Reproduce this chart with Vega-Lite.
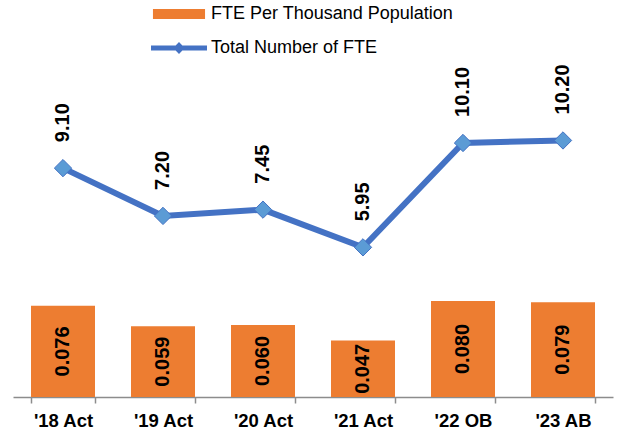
{
  "$schema": "https://vega.github.io/schema/vega-lite/v6.json",
  "width": 600,
  "height": 335,
  "autosize": {"type": "none"},
  "padding": {"left": 13, "top": 62, "right": 10, "bottom": 37},
  "config": {
    "view": {"stroke": null},
    "font": "Liberation Sans",
    "legend": {"padding": 0, "labelFont": "Liberation Sans", "labelFontSize": 18, "labelColor": "black", "labelOffset": 4, "labelLimit": 400}
  },
  "data": {
    "values": [
      {"period": "'18 Act", "per_k": 0.076, "total": 9.10},
      {"period": "'19 Act", "per_k": 0.059, "total": 7.20},
      {"period": "'20 Act", "per_k": 0.060, "total": 7.45},
      {"period": "'21 Act", "per_k": 0.047, "total": 5.95},
      {"period": "'22 OB", "per_k": 0.080, "total": 10.10},
      {"period": "'23 AB", "per_k": 0.079, "total": 10.20}
    ]
  },
  "encoding": {
    "x": {
      "field": "period",
      "type": "nominal",
      "sort": null,
      "scale": {"paddingInner": 0.36, "paddingOuter": 0.18},
      "axis": {
        "title": null,
        "labelAngle": 0,
        "labelFont": "Liberation Sans",
        "labelFontSize": 18.5,
        "labelFontWeight": "bold",
        "labelColor": "black",
        "labelPadding": 8,
        "domainColor": "#8c8c8c",
        "domainWidth": 1.5,
        "tickColor": "#8c8c8c",
        "tickWidth": 1.5,
        "tickSize": 6,
        "tickBand": "extent",
        "grid": false
      }
    }
  },
  "layer": [
    {
      "mark": {"type": "bar"},
      "encoding": {
        "y": {"field": "per_k", "type": "quantitative", "scale": {"domain": [0, 0.2792]}, "axis": null},
        "fill": {
          "datum": "FTE Per Thousand Population",
          "scale": {"range": ["#ED7D31"]},
          "legend": {
            "title": null,
            "orient": "none",
            "legendX": 138,
            "legendY": -76,
            "symbolType": "M-0.93,-0.18L0.93,-0.18L0.93,0.18L-0.93,0.18Z",
            "symbolSize": 3136,
            "symbolStrokeWidth": 0
          }
        }
      }
    },
    {
      "mark": {"type": "text", "angle": 270, "align": "center", "baseline": "middle", "fontSize": 20, "fontWeight": "bold", "font": "Liberation Sans", "color": "black"},
      "encoding": {
        "y": {"field": "per_k", "type": "quantitative", "scale": {"domain": [0, 0.5584]}, "axis": null},
        "text": {"field": "per_k", "type": "quantitative", "format": ".3f"}
      }
    },
    {
      "encoding": {
        "y": {"field": "total", "type": "quantitative", "scale": {"domain": [0, 13.32]}, "axis": null}
      },
      "layer": [
        {
          "mark": {"type": "line", "strokeWidth": 6},
          "encoding": {
            "stroke": {
              "datum": "Total Number of FTE",
              "scale": {"range": ["#4472C4"]},
              "legend": {
                "title": null,
                "orient": "none",
                "legendX": 138,
                "legendY": -42,
                "symbolType": "M-1,-0.09L-0.12,-0.09L0,-0.21L0.12,-0.09L1,-0.09L1,0.09L0.12,0.09L0,0.21L-0.12,0.09L-1,0.09Z",
                "symbolSize": 3136,
                "encode": {"symbols": {"update": {"fill": {"value": "#4472C4"}, "strokeWidth": {"value": 0}}}}
              }
            }
          }
        },
        {
          "mark": {"type": "point", "shape": "diamond", "size": 300, "filled": true, "fill": "#5B9BD5", "stroke": "#4472C4", "strokeWidth": 1, "opacity": 1},
          "encoding": {}
        },
        {
          "mark": {"type": "text", "angle": 270, "align": "left", "baseline": "middle", "dx": 26, "fontSize": 20, "fontWeight": "bold", "font": "Liberation Sans", "color": "black"},
          "encoding": {
            "text": {"field": "total", "type": "quantitative", "format": ".2f"}
          }
        }
      ]
    }
  ],
  "resolve": {"scale": {"y": "independent"}}
}
